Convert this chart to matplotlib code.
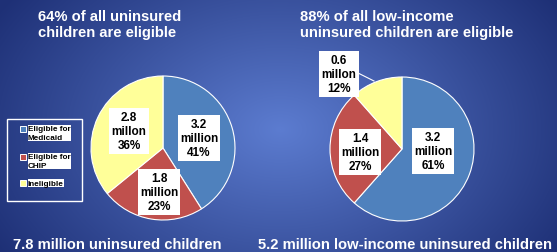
import numpy as np
import matplotlib
matplotlib.use("Agg")
import matplotlib.pyplot as plt
from matplotlib.patches import Rectangle

plt.rcParams['font.family'] = ['Liberation Sans', 'DejaVu Sans']
plt.rcParams['font.weight'] = 'bold'

W, H = 557, 253

# --- data
categories = ["Eligible for\nMedicaid", "Eligible for\nCHIP", "Ineligible"]
colors = ["#4F81BD", "#C0504D", "#FFFF99"]

all_millions = [3.2, 1.8, 2.8]
all_pct = [41, 23, 36]
all_word = ["million", "million", "millon"]

low_millions = [3.2, 1.4, 0.6]
low_pct = [61, 27, 12]
low_word = ["million", "million", "millon"]

titles = ["64% of all uninsured\nchildren are eligible",
          "88% of all low-income\nuninsured children are eligible"]
footers = ["7.8 million uninsured children",
           "5.2 million low-income uninsured children"]

fig = plt.figure(figsize=(W / 100, H / 100), dpi=100)

# background radial gradient
bg = fig.add_axes([0, 0, 1, 1])
yy, xx = np.mgrid[0:H, 0:W]
d = np.sqrt(((xx - 280) / 330.0) ** 2 + ((yy - 130) / 230.0) ** 2)
t = np.clip(d, 0, 1)[..., None]
c_in = np.array([92, 124, 208]) / 255
c_out = np.array([30, 48, 118]) / 255
bg.imshow(c_in * (1 - t) + c_out * t, extent=[0, W, 0, H], origin="upper", aspect="auto")
bg.set_axis_off()

ax = fig.add_axes([0, 0, 1, 1])
ax.set_facecolor("none")


def py(y):
    return H - y


def draw_pie(vals, pct, words, center, radius, label_pos):
    ax.pie(vals, colors=colors, startangle=90, counterclock=False,
           center=(center[0], py(center[1])), radius=radius,
           wedgeprops=dict(edgecolor="white", linewidth=0.8))
    for v, p, w, (lx, ly) in zip(vals, pct, words, label_pos):
        ax.text(lx, py(ly), f"{v}\n{w}\n{p}%", ha="center", va="center",
                fontsize=8.5, fontweight="bold", color="black", linespacing=1.25,
                bbox=dict(boxstyle="square,pad=0.2", fc="white", ec="none"))


draw_pie(all_millions, all_pct, all_word, (163, 149), 72,
         [(199, 139), (159, 193), (129, 132)])
draw_pie(low_millions, low_pct, low_word, (402, 150), 72,
         [(433, 152), (360, 153), (339, 75)])
ax.plot([358, 374], [py(74), py(82)], color="white", lw=0.8, zorder=1)

ax.set_xlim(0, W)
ax.set_ylim(0, H)
ax.set_aspect("auto")
ax.set_axis_off()

for x0, txt in zip([38, 300], titles):
    ax.text(x0, py(10), txt, ha="left", va="top", fontsize=10.6,
            fontweight="bold", color="white", linespacing=1.15)
for x0, txt in zip([13, 258], footers):
    ax.text(x0, py(249), txt, ha="left", va="baseline", fontsize=10.6,
            fontweight="bold", color="white")

# legend
ax.add_patch(Rectangle((7, py(202)), 75, 82, fill=False, ec="white", lw=1))
for (my, ty), lab, col in zip([(130, 134), (158, 162), (184, 184)], categories, colors):
    ax.add_patch(Rectangle((20, py(my) - 3), 6, 6, fc=col, ec="white", lw=0.7))
    ax.text(28, py(ty), lab, ha="left", va="center", fontsize=5.9,
            fontweight="bold", color="black", linespacing=1.3,
            bbox=dict(boxstyle="square,pad=0.05", fc="white", ec="none"))

fig.savefig("out.png", dpi=100)
